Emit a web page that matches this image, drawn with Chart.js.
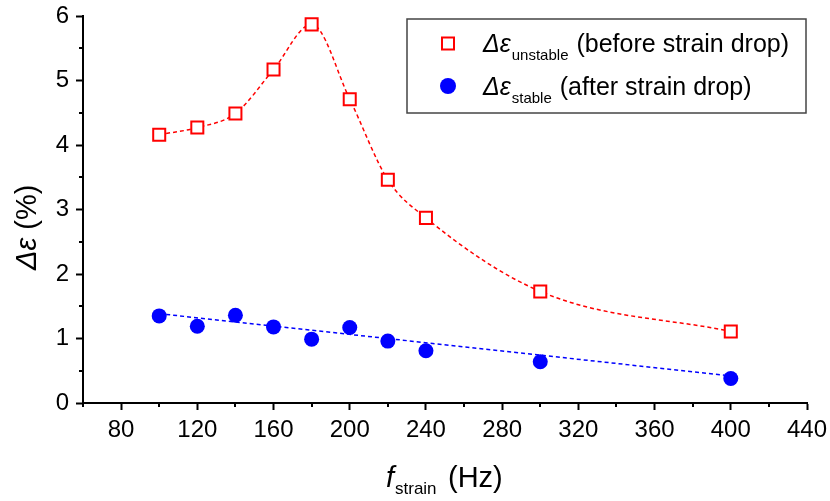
<!DOCTYPE html>
<html>
<head>
<meta charset="utf-8">
<script src="https://cdn.jsdelivr.net/npm/chart.js@4"></script>
<style>
    html, body { margin: 0; padding: 0; background: #fff; }
    #wrap { width: 830px; height: 501px; }
</style>
</head>
<body>
<div id="wrap"><canvas id="chart" width="830" height="501"></canvas></div>
<script>
'use strict';

// ============================================================================
// Data
// ============================================================================

const freqs = [100, 120, 140, 160, 180, 200, 220, 240, 300, 400];
const unstableVals = [4.16, 4.27, 4.49, 5.17, 5.87, 4.71, 3.46, 2.87, 1.73, 1.11];
const stableVals = [1.35, 1.19, 1.36, 1.18, 0.99, 1.17, 0.96, 0.81, 0.64, 0.38];

// linear fit of the stable series (end points)
const fitX = [100, 400];
const fitY = [1.385, 0.42];

const xTickLabels = [80, 120, 160, 200, 240, 280, 320, 360, 400, 440];
const xMinorTicks = [60, 100, 140, 180, 220, 260, 300, 340, 380, 420];
const yTickLabels = [0, 1, 2, 3, 4, 5, 6];
const yMinorTicks = [0.5, 1.5, 2.5, 3.5, 4.5, 5.5];

// ============================================================================
// Style
// ============================================================================

const FONT = "'Liberation Sans', Arial, sans-serif";
const RED = '#ff0000';
const BLUE = '#0000ff';

const toPoints = (xs, ys) => xs.map((x, i) => ({ x: x, y: ys[i] }));

/**
 * Minor ticks, axis titles and legend (sub-scripts need hand drawing)
 */
const decorPlugin = {
    id: 'decor',
    afterDraw(chart) {
        const ctx = chart.ctx;
        const xs = chart.scales.x;
        const ys = chart.scales.y;
        ctx.save();

        // minor ticks
        ctx.strokeStyle = '#000';
        ctx.lineWidth = 2;
        ctx.beginPath();
        xMinorTicks.forEach(v => {
            const px = Math.round(xs.getPixelForValue(v));
            ctx.moveTo(px, ys.bottom);
            ctx.lineTo(px, ys.bottom + 4);
        });
        yMinorTicks.forEach(v => {
            const py = Math.round(ys.getPixelForValue(v));
            ctx.moveTo(xs.left, py);
            ctx.lineTo(xs.left - 4, py);
        });
        ctx.stroke();

        ctx.fillStyle = '#000';
        ctx.textBaseline = 'alphabetic';
        ctx.textAlign = 'left';

        // x title
        ctx.font = 'italic 29px ' + FONT;
        ctx.fillText('f', 386, 487);
        ctx.font = '17px ' + FONT;
        ctx.fillText('strain', 395, 494);
        ctx.font = '29px ' + FONT;
        ctx.fillText('(Hz)', 448, 487);

        // y title
        ctx.save();
        ctx.translate(36, 270);
        ctx.rotate(-Math.PI / 2);
        ctx.font = 'italic 29px ' + FONT;
        ctx.fillText('\u0394\u03b5', 0, 0);
        const w = ctx.measureText('\u0394\u03b5').width;
        ctx.font = '29px ' + FONT;
        ctx.fillText(' (%)', w, 0);
        ctx.restore();

        // legend box
        ctx.strokeStyle = '#444';
        ctx.lineWidth = 1.5;
        ctx.strokeRect(407, 19, 399, 94);

        const rows = [
            { sub: 'unstable', text: '(before strain drop)', y: 52 },
            { sub: 'stable', text: '(after strain drop)', y: 95 }
        ];
        rows.forEach(r => {
            let x = 483;
            ctx.font = 'italic 25px ' + FONT;
            ctx.fillText('\u0394\u03b5', x, r.y);
            x += ctx.measureText('\u0394\u03b5').width + 1;
            ctx.font = '15px ' + FONT;
            ctx.fillText(r.sub, x, r.y + 8);
            x += ctx.measureText(r.sub).width + 8;
            ctx.font = '25px ' + FONT;
            ctx.fillText(r.text, x, r.y);
        });

        // legend markers
        ctx.strokeStyle = RED;
        ctx.lineWidth = 2;
        ctx.strokeRect(442, 37.5, 12, 12);
        ctx.fillStyle = BLUE;
        ctx.beginPath();
        ctx.arc(448, 86, 8, 0, Math.PI * 2);
        ctx.fill();

        ctx.restore();
    }
};

// ============================================================================
// Chart
// ============================================================================

const chart = new Chart(document.getElementById('chart'), {
    type: 'scatter',
    data: {
        datasets: [
            {
                label: 'unstable',
                data: toPoints(freqs, unstableVals),
                showLine: true,
                cubicInterpolationMode: 'monotone',
                borderColor: RED,
                borderWidth: 1.5,
                borderDash: [4, 3],
                pointStyle: 'rect',
                pointRadius: 8.5,
                pointBorderWidth: 2,
                pointBorderColor: RED,
                pointBackgroundColor: '#fff',
                order: 1
            },
            {
                label: 'fit',
                data: toPoints(fitX, fitY),
                showLine: true,
                borderColor: BLUE,
                borderWidth: 1.5,
                borderDash: [4, 3],
                pointRadius: 0,
                order: 3
            },
            {
                label: 'stable',
                data: toPoints(freqs, stableVals),
                pointStyle: 'circle',
                pointRadius: 7.5,
                pointBorderWidth: 0,
                pointBackgroundColor: BLUE,
                pointBorderColor: BLUE,
                order: 2
            }
        ]
    },
    options: {
        responsive: false,
        animation: false,
        layout: { padding: { left: 0, right: 23, top: 16, bottom: 0 } },
        plugins: {
            legend: { display: false },
            tooltip: { enabled: false }
        },
        scales: {
            x: {
                type: 'linear',
                min: 60,
                max: 440,
                afterBuildTicks: s => { s.ticks = xTickLabels.map(v => ({ value: v })); },
                afterFit: s => { s.height = 98; s.paddingLeft = 0; s.paddingRight = 0; },
                border: { display: true, color: '#000', width: 2 },
                grid: { drawOnChartArea: false, drawTicks: true, tickLength: 7, tickColor: '#000', tickWidth: 2 },
                ticks: { color: '#000', padding: 6, font: { family: FONT, size: 24 }, maxRotation: 0 }
            },
            y: {
                type: 'linear',
                min: 0,
                max: 6,
                afterBuildTicks: s => { s.ticks = yTickLabels.map(v => ({ value: v })); },
                afterFit: s => { s.width = 83; s.paddingTop = 0; s.paddingBottom = 0; },
                border: { display: true, color: '#000', width: 2 },
                grid: { drawOnChartArea: false, drawTicks: true, tickLength: 7, tickColor: '#000', tickWidth: 2 },
                ticks: { color: '#000', padding: 7, font: { family: FONT, size: 24 } }
            }
        }
    },
    plugins: [decorPlugin]
});
</script>
</body>
</html>
